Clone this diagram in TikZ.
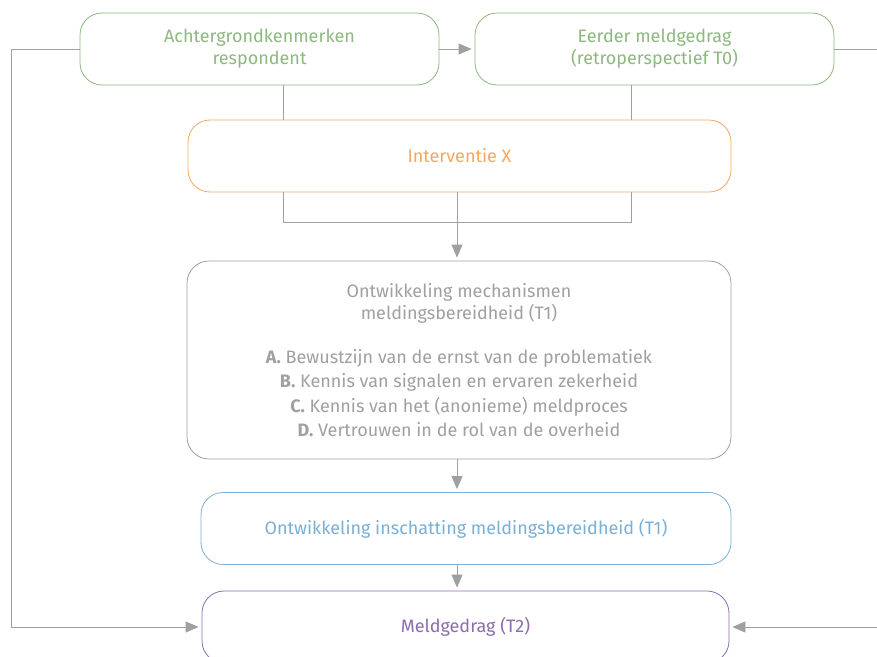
\documentclass[tikz,border=0pt]{standalone}
\usepackage{fontspec}
\setmainfont{Fira Sans}
\usepackage{tikz}
\usetikzlibrary{arrows.meta, positioning, calc}

\definecolor{groen}{RGB}{141,184,127}
\definecolor{oranje}{RGB}{245,166,99}
\definecolor{grijs}{RGB}{158,160,162}
\definecolor{blauw}{RGB}{122,176,212}
\definecolor{paars}{RGB}{142,108,174}

\begin{document}
\begin{tikzpicture}[x=1pt,y=-1pt,>={Triangle[length=13pt,width=11pt]},
	font=\fontsize{18}{22}\selectfont]
	\tikzset{box/.style={draw, rounded corners=22pt, fill=white, align=center, minimum height=72pt, line width=0.8pt},
		link/.style={draw=grijs, line width=0.8pt},
		arr/.style={link, ->, color=grijs, shorten >=3pt}}
	\clip (0,0) rectangle (877,656);
	\node[box, draw=groen, text=groen, minimum width=359pt] (ach) at (259.5,49) {Achtergrondkenmerken\\respondent};
	\node[box, draw=groen, text=groen, minimum width=359pt] (eer) at (654.5,49) {Eerder meldgedrag\\(retroperspectief T0)};
	\node[box, draw=oranje, text=oranje, minimum width=543pt] (int) at (459.5,156) {Interventie X};
	\node[box, draw=grijs, text=grijs, minimum width=544pt, minimum height=198pt] (mech) at (459,360)
		{Ontwikkeling mechanismen\\meldingsbereidheid (T1)\\[22pt]
		\textbf{A.} Bewustzijn van de ernst van de problematiek\\[2.5pt]
		\textbf{B.} Kennis van signalen en ervaren zekerheid\\[2.5pt]
		\textbf{C.} Kennis van het (anonieme) meldproces\\[2.5pt]
		\textbf{D.} Vertrouwen in de rol van de overheid};
	\node[box, draw=blauw, text=blauw, minimum width=530pt] (ins) at (466,528.5) {Ontwikkeling inschatting meldingsbereidheid (T1)};
	\node[box, draw=paars, text=paars, minimum width=527pt] (meld) at (465.5,627) {Meldgedrag (T2)};
	% knooppunten
	\coordinate (jl) at (283,222);
	\coordinate (jr) at (631,222);
	\coordinate (jm) at (457,222);
	\coordinate (lo) at (11,49);
	\coordinate (re) at (877,49);
	\coordinate (ro) at (877,627);
	\draw[arr] (ach) -- (eer);
	\draw[link] (ach.south -| jl) -- (int.north -| jl);
	\draw[link] (eer.south -| jr) -- (int.north -| jr);
	\draw[link] (int.south -| jl) |- (jr) -- (int.south -| jr);
	\draw[arr] (int.south -| jm) -- (mech.north -| jm);
	\draw[arr] (mech.south -| jm) -- (ins.north -| jm);
	\draw[arr] (ins.south -| jm) -- (meld.north -| jm);
	\draw[arr] (ach.west) -- (lo) |- (meld.west);
	\draw[link] (eer.east) -- (re);
	\draw[arr] (ro) -- (meld.east);
\end{tikzpicture}
\end{document}
